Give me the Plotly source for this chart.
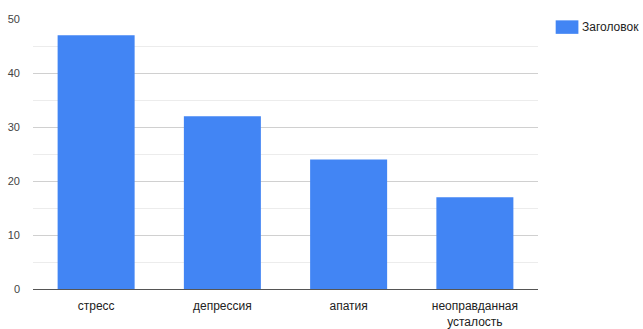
import plotly.graph_objects as go

categories = ["стресс", "депрессия", "апатия", "неоправданная<br>усталость"]
values = [47, 32, 24, 17]
series_name = "Заголовок"
y_ticks = [0, 10, 20, 30, 40, 50]
bar_color = "#4285f4"

fig = go.Figure()
fig.add_trace(go.Bar(x=categories, y=values, name=series_name,
                     marker=dict(color=bar_color, line=dict(width=0)),
                     showlegend=False))

# legend drawn as swatch + label in paper coordinates
fig.add_shape(type="rect", xref="paper", yref="paper",
              x0=1.035, x1=1.08, y0=0.945, y1=0.995,
              fillcolor=bar_color, line=dict(width=0))
fig.add_annotation(xref="paper", yref="paper", x=1.083, y=0.97,
                   xanchor="left", yanchor="middle", showarrow=False,
                   text=series_name, font=dict(size=12, color="#222"))

fig.update_layout(
    width=643, height=329,
    margin=dict(l=33, r=105, t=19, b=40),
    paper_bgcolor="white", plot_bgcolor="white",
    font=dict(family="Liberation Sans, Arial, sans-serif", size=11, color="#444"),
    bargap=0.39,
    xaxis=dict(showgrid=False, ticks="", showline=False, ticklabelstandoff=8,
               automargin=False, tickfont=dict(size=12, color="#222")),
    yaxis=dict(range=[0, 50], tickvals=y_ticks, showgrid=True, gridcolor="#d0d0d0",
               gridwidth=1, zeroline=True, zerolinecolor="#555", zerolinewidth=1,
               minor=dict(dtick=5, showgrid=True, gridcolor="#ececec", gridwidth=1),
               automargin=False,
               ticks="", tickfont=dict(size=11, color="#444"), ticklabelstandoff=12),
)
fig.write_html("out.html")
